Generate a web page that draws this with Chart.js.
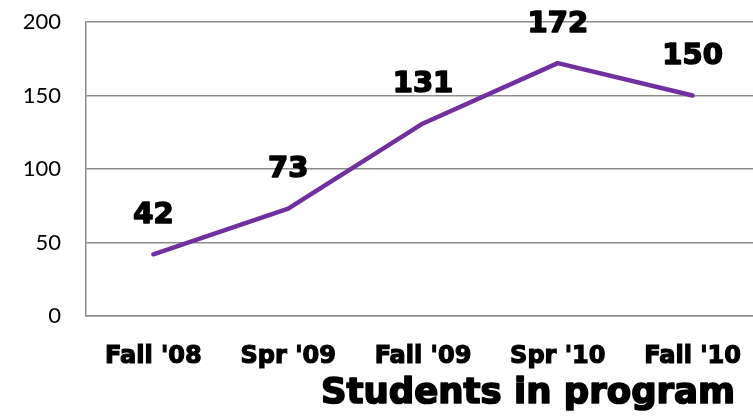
<!DOCTYPE html>
<html>
<head>
<meta charset="utf-8">
<script src="https://cdn.jsdelivr.net/npm/chart.js@4/dist/chart.umd.min.js"></script>
<style>
  html, body { margin: 0; padding: 0; background: #fff; overflow: hidden; }
  #wrap { width: 760px; height: 417px; position: relative; }
</style>
</head>
<body>
<div id="wrap"><canvas id="c" width="760" height="417"></canvas></div>
<script>
const categories = ["Fall '08", "Spr '09", "Fall '09", "Spr '10", "Fall '10"];
const students = [42, 73, 131, 172, 150];
const yTicks = [0, 50, 100, 150, 200];
const chartTitle = "Students in program";

const valueLabels = {
  id: 'valueLabels',
  afterDatasetsDraw(chart) {
    const ctx = chart.ctx;
    const meta = chart.getDatasetMeta(0);
    ctx.save();
    ctx.font = 'bold 29px "DejaVu Sans"';
    ctx.fillStyle = '#000';
    ctx.strokeStyle = '#000';
    ctx.lineWidth = 1.6;
    ctx.lineJoin = 'round';
    ctx.textAlign = 'center';
    ctx.textBaseline = 'middle';
    meta.data.forEach((pt, i) => {
      const t = String(chart.data.datasets[0].data[i]);
      ctx.strokeText(t, pt.x, pt.y - 39);
      ctx.fillText(t, pt.x, pt.y - 39);
    });
    ctx.restore();
  }
};

const bottomTitle = {
  id: 'bottomTitle',
  afterDraw(chart) {
    const ctx = chart.ctx;
    ctx.save();
    ctx.font = 'bold 35.5px "DejaVu Sans"';
    ctx.fillStyle = '#000';
    ctx.strokeStyle = '#000';
    ctx.lineWidth = 1.7;
    ctx.lineJoin = 'round';
    ctx.textAlign = 'right';
    ctx.textBaseline = 'alphabetic';
    ctx.strokeText(chartTitle, chart.width - 25, chart.height - 14);
    ctx.fillText(chartTitle, chart.width - 25, chart.height - 14);
    ctx.restore();
  }
};

new Chart(document.getElementById('c'), {
  type: 'line',
  data: {
    labels: categories,
    datasets: [{
      data: students,
      borderColor: '#7030A0',
      borderWidth: 4.5,
      borderCapStyle: 'round',
      borderJoinStyle: 'round',
      pointRadius: 0,
      pointHoverRadius: 0,
      tension: 0,
      fill: false
    }]
  },
  options: {
    responsive: false,
    animation: false,
    events: [],
    layout: { padding: { top: 22, left: 0, right: 0, bottom: 0 } },
    plugins: { legend: { display: false }, tooltip: { enabled: false }, title: { display: false } },
    scales: {
      x: {
        offset: true,
        grid: { display: false, drawTicks: false },
        border: { display: true, color: '#8c8c8c', width: 1.5 },
        ticks: {
          padding: 26,
          color: '#000',
          textStrokeColor: '#000',
          textStrokeWidth: 1.2,
          font: { family: '"DejaVu Sans"', size: 24, weight: 'bold' },
          maxRotation: 0,
          autoSkip: false
        },
        afterFit(scale) { scale.height = 101; scale.paddingLeft = 0; scale.paddingRight = 0; }
      },
      y: {
        min: 0,
        max: 200,
        afterBuildTicks(scale) { scale.ticks = yTicks.map(v => ({ value: v })); },
        grid: { color: '#8c8c8c', lineWidth: 1.5, drawTicks: false },
        border: { display: true, color: '#8c8c8c', width: 1.5 },
        ticks: {
          padding: 25,
          color: '#000',
          font: { family: 'Lato', size: 22 }
        },
        afterFit(scale) { scale.width = 86; scale.paddingTop = 0; scale.paddingBottom = 0; }
      }
    }
  },
  plugins: [valueLabels, bottomTitle]
});
</script>
</body>
</html>
